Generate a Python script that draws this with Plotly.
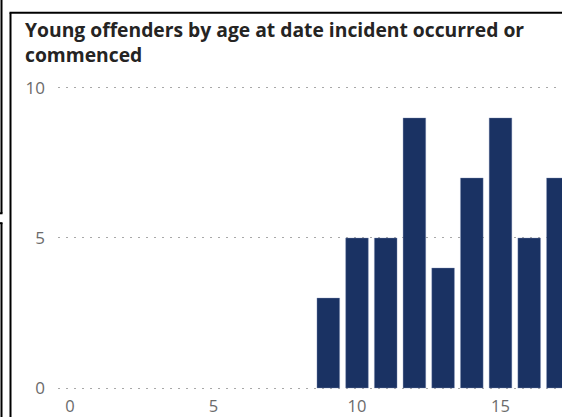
import plotly.graph_objects as go

# Offender counts by age at the date the incident occurred or commenced
ages = [9, 10, 11, 12, 13, 14, 15, 16, 17]
offenders = [3, 5, 5, 9, 4, 7, 9, 5, 7]

y_ticks = [0, 5, 10]
x_ticks = [0, 5, 10, 15]

title_text = "Young offenders by age at date incident occurred or<br>commenced"

W, H = 562, 417
ML, MR, MT, MB = 58, 0, 80, 22
PW, PH = W - ML - MR, H - MT - MB
Y_UNIT = 30.4          # pixels per count
X_UNIT = 28.7          # pixels per year of age
Y_LOW = -(H - MB - 392) / Y_UNIT

BAR = "#1a3263"
LABEL = "#6b6b6b"
GRID = "#a8a8a8"


def px_x(px):
    return (px - ML) / PW


def px_y(py):
    return (H - MB - py) / PH


fig = go.Figure(
    go.Bar(
        x=ages,
        y=offenders,
        marker=dict(color=BAR, line=dict(color="rgba(140,155,190,0.6)", width=0.6)),
        hoverinfo="x+y",
    )
)

frame = dict(type="line", xref="paper", yref="paper", line=dict(color="black", width=2))
shapes = [
    # card border (left and top edges)
    dict(frame, x0=px_x(10.5), x1=px_x(10.5), y0=px_y(12), y1=px_y(430)),
    dict(frame, x0=px_x(9.5), x1=px_x(580), y0=px_y(12), y1=px_y(12)),
    # neighbouring cards on the left edge
    dict(frame, x0=px_x(1.5), x1=px_x(1.5), y0=px_y(-10), y1=px_y(215)),
    dict(frame, x0=px_x(-10), x1=px_x(2.5), y0=px_y(215), y1=px_y(215)),
    dict(frame, x0=px_x(1.5), x1=px_x(1.5), y0=px_y(225), y1=px_y(430)),
    dict(frame, x0=px_x(-10), x1=px_x(2.5), y0=px_y(225), y1=px_y(225)),
]

fig.update_layout(
    width=W,
    height=H,
    margin=dict(l=ML, r=MR, t=MT, b=MB, pad=0),
    paper_bgcolor="white",
    plot_bgcolor="white",
    showlegend=False,
    bargap=0.21,
    font=dict(family="Open Sans", color=LABEL, size=16),
    title=dict(
        text=title_text,
        xref="container",
        yref="container",
        x=25 / W,
        y=1 - 37 / H,
        xanchor="left",
        yanchor="top",
        pad=dict(t=0, b=0, l=0, r=0),
        font=dict(family="Open Sans", size=19.3, color="#252423", weight="bold"),
    ),
    shapes=shapes,
)

fig.update_xaxes(
    range=[-12 / X_UNIT, (W - 70) / X_UNIT],
    tickvals=x_ticks,
    showgrid=False,
    zeroline=False,
    showline=False,
    ticks="",
    ticklabelstandoff=3,
    tickfont=dict(size=16.5, color=LABEL),
)

fig.update_yaxes(
    range=[Y_LOW, Y_LOW + PH / Y_UNIT],
    tickvals=y_ticks,
    showgrid=True,
    gridcolor=GRID,
    gridwidth=1,
    griddash="2px,6px",
    zeroline=False,
    showline=False,
    ticks="",
    ticklabelstandoff=12,
    tickfont=dict(size=17, color=LABEL),
)

fig.write_html("out.html")
